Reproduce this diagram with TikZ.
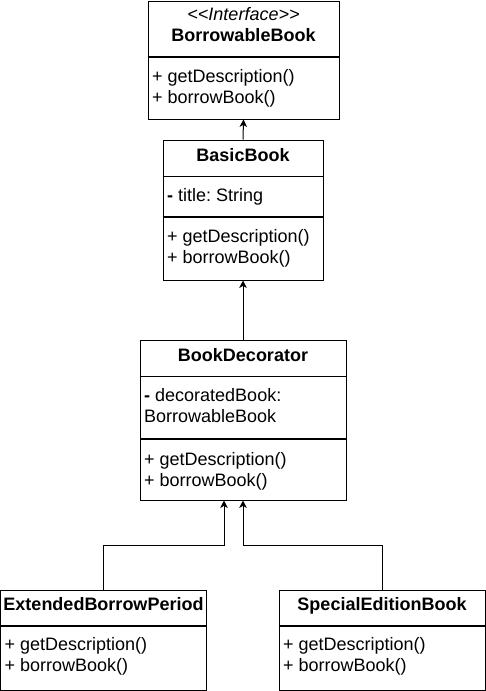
\documentclass[tikz,border=0pt]{standalone}
\usepackage{fontspec}
\setmainfont{Liberation Sans}
\usetikzlibrary{arrows.meta}
\frenchspacing
\begin{document}
\begin{tikzpicture}[x=1pt,y=-1pt,
  classbox/.style={draw=black, line width=1pt, fill=white, rectangle, inner sep=0pt},
  sep/.style={line width=1.4pt},
  txt/.style={inner sep=0pt, anchor=base west, font=\fontsize{18}{21}\selectfont},
  ctxt/.style={inner sep=0pt, anchor=base, font=\fontsize{18}{21}\selectfont},
  bold/.style={ctxt, font=\fontsize{18}{21}\selectfont\bfseries},
  arr/.style={line width=1pt, -{Stealth[length=7.5pt,width=7.5pt,inset=2.2pt]}}]
\useasboundingbox (0,0) rectangle (486,691);
\fill[white] (0,0) rectangle (486,691);
% BorrowableBook
\node[classbox, minimum width=191pt, minimum height=118pt] (bb) at (243.5,60) {};
\draw[sep] (bb.west |- 0,57) -- (bb.east |- 0,57);
\node[ctxt, font=\fontsize{18}{21}\selectfont\itshape] (bbst) at (243.5,20.5) {<{}<Interface>{}>};
\node[bold] (bbt) at (243.5,41.5) {BorrowableBook};
\node[txt] (bbm1) at (152,82.5) {+ getDescription()};
\node[txt] (bbm2) at (152,103.5) {+ borrowBook()};
% BasicBook
\node[classbox, minimum width=160pt, minimum height=140pt] (basic) at (243,210) {};
\draw[sep] (basic.west |- 0,176.5) -- (basic.east |- 0,176.5);
\draw[sep] (basic.west |- 0,217) -- (basic.east |- 0,217);
\node[bold] (basict) at (243,161.5) {BasicBook};
\node[txt] (basica) at (167,201.5) {\textbf{-} title: String};
\node[txt] (basicm1) at (167,242) {+ getDescription()};
\node[txt] (basicm2) at (167,263) {+ borrowBook()};
% BookDecorator
\node[classbox, minimum width=206pt, minimum height=160pt] (dec) at (243,420) {};
\draw[sep] (dec.west |- 0,376.5) -- (dec.east |- 0,376.5);
\draw[sep] (dec.west |- 0,439) -- (dec.east |- 0,439);
\node[bold] (dect) at (243,361.5) {BookDecorator};
\node[txt] (deca1) at (144,401.5) {\textbf{-} decoratedBook:};
\node[txt] (deca2) at (144,422.5) {BorrowableBook};
\node[txt] (decm1) at (144,465.5) {+ getDescription()};
\node[txt] (decm2) at (144,486.5) {+ borrowBook()};
% ExtendedBorrowPeriod
\node[classbox, minimum width=206pt, minimum height=100pt] (ext) at (103.5,640) {};
\draw[sep] (ext.west |- 0,626) -- (ext.east |- 0,626);
\node[bold] (extt) at (103.5,610.5) {ExtendedBorrowPeriod};
\node[txt] (extm1) at (4.5,650.5) {+ getDescription()};
\node[txt] (extm2) at (4.5,671.5) {+ borrowBook()};
% SpecialEditionBook
\node[classbox, minimum width=206pt, minimum height=100pt] (spec) at (382,640) {};
\draw[sep] (spec.west |- 0,626) -- (spec.east |- 0,626);
\node[bold] (spect) at (382,610.5) {SpecialEditionBook};
\node[txt] (specm1) at (283,650.5) {+ getDescription()};
\node[txt] (specm2) at (283,671.5) {+ borrowBook()};
% connectors
\coordinate (jn) at (0,545);
\coordinate (decl) at ([xshift=-19pt]dec.south);
\draw[arr] (basic.north) -- (bb.south);
\draw[arr] (dec.north) -- (basic.south);
\draw[arr] (ext.north) -- (ext.north |- jn) -| (decl);
\draw[arr] (spec.north) -- (spec.north |- jn) -| (dec.south);
\end{tikzpicture}
\end{document}
